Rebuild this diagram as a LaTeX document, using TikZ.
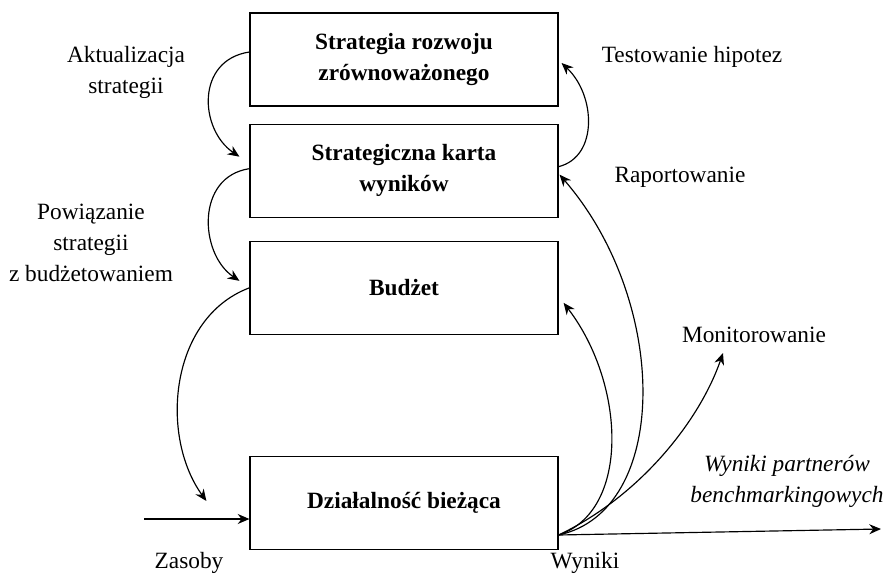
\documentclass[tikz,border=0pt]{standalone}
\usepackage{fontspec}
\setmainfont{Liberation Serif}
\usetikzlibrary{positioning,arrows.meta}

\begin{document}
\begin{tikzpicture}[x=0.6pt, y=-0.6pt, line width=0.7pt, >={Stealth[length=7pt,width=6pt]},
  font=\fontsize{14}{18.5}\selectfont,
  box/.style={rectangle, draw, align=center, minimum width=184.8pt, minimum height=55.8pt, font=\fontsize{14}{18.5}\selectfont\bfseries},
  lab/.style={align=center}]
\useasboundingbox (0,0) rectangle (883,574);

\node (sroz) [box] at (404,59.5) {Strategia rozwoju\\zrównoważonego};
\node (skw) [box, below=10.2pt of sroz] {Strategiczna karta\\wyników};
\node (bud) [box, below=13.8pt of skw] {Budżet};
\node (dzb) [box, below=72.6pt of bud] {Działalność bieżąca};

\node (akt) [lab] at (126,72.5) {Aktualizacja\\strategii};
\node (pow) [lab] at (91,243) {Powiązanie\\strategii\\z budżetowaniem};
\node (tes) at (692,57) {Testowanie hipotez};
\node (rap) at (680,177) {Raportowanie};
\node (mon) at (754,335) {Monitorowanie};
\node (bench) [lab, font=\fontsize{14}{18.5}\selectfont\itshape] at (787,481) {Wyniki partnerów\\benchmarkingowych};
\node (zas) at (189,563) {Zasoby};
\node (wyn) at (585,563) {Wyniki};

\coordinate (wej) at (144,519);
\coordinate (wyj) at ([shift={(0,32)}]dzb.east);
\coordinate (kon) at (881,529);

% petle po lewej stronie
\draw[->] ([shift={(0,-7.5)}]sroz.west) .. controls +(-54,8) and +(-40,-27) .. ([shift={(-10,-14)}]skw.west);
\draw[->] ([shift={(0,-2)}]skw.west) .. controls +(-54,8) and +(-40,-27) .. ([shift={(-10,-7)}]bud.west);
\draw[->] (bud.west) .. controls +(-80,30) and +(-47,-65) .. ([shift={(-43,-2)}]dzb.west);

% sprzezenie zwrotne
\draw[->] ([shift={(0,-4)}]skw.east) .. controls +(40,-10) and +(34,32) .. ([shift={(3,3.5)}]sroz.east);
\draw[->] (wyj) .. controls +(112,-24) and +(110,127) .. ([shift={(1,4)}]skw.east);
\draw[->] (wyj) .. controls +(72,-24) and +(62,81) .. ([shift={(5,15)}]bud.east);
\draw[->] (wyj) .. controls +(82,-39) and +(-23,67) .. ([shift={(-31,18)}]mon.center);

\draw[->] (wyj) -- (kon);
\draw[->] (wej) -- (wej -| dzb.west);

\end{tikzpicture}
\end{document}
